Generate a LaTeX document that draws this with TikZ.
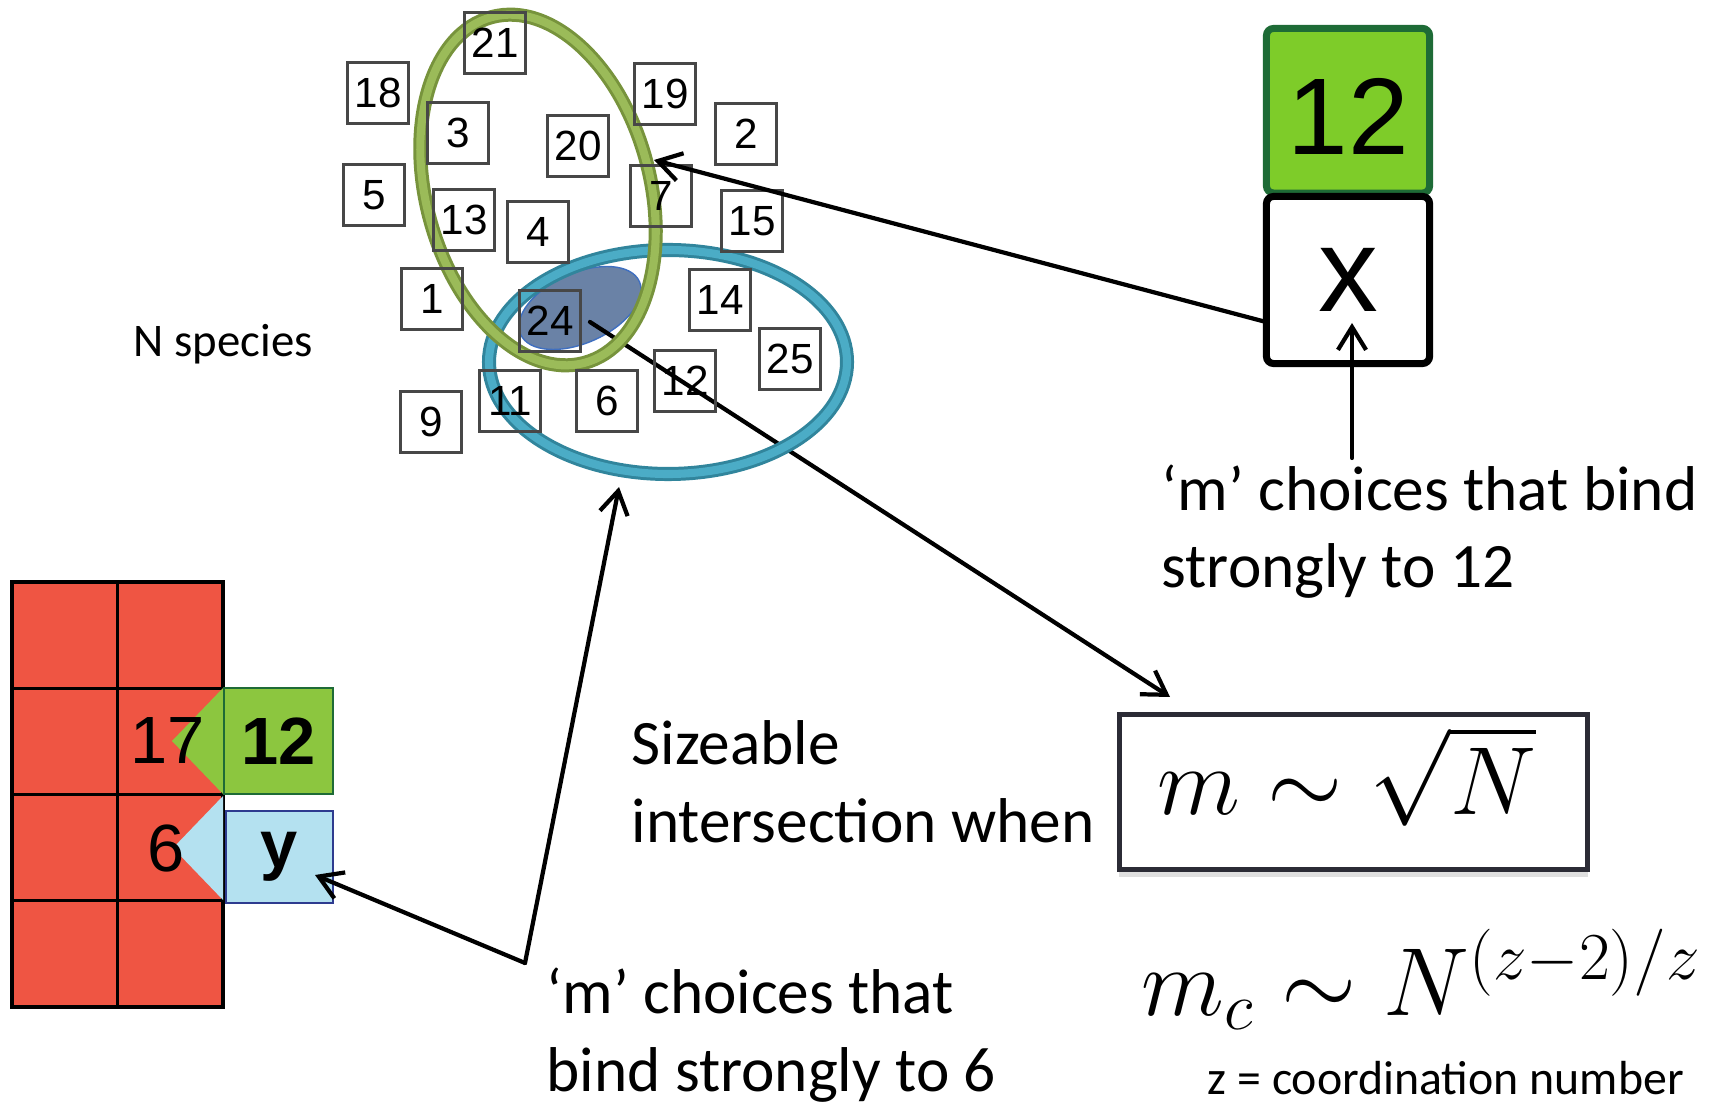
\documentclass[tikz,border=0pt]{standalone}
\usepackage[no-math]{fontspec}
\setmainfont{Carlito}
\newfontfamily\tagfont{Liberation Sans}
\usetikzlibrary{arrows.meta,shadows}
\DeclareMathSizes{24.88}{24.88}{17.28}{12}

\definecolor{cellred}{HTML}{EF5543}
\definecolor{leafgreen}{HTML}{8CC63F}
\definecolor{tagfill}{HTML}{7ECC29}
\definecolor{pinegreen}{HTML}{1E6B36}
\definecolor{iceblue}{HTML}{B4E1F0}
\definecolor{inkblue}{HTML}{2E3B8F}
\definecolor{ringgreen}{HTML}{77933C}
\definecolor{ringgreenlt}{HTML}{9BBB59}
\definecolor{ringblue}{HTML}{31859C}
\definecolor{ringbluelt}{HTML}{4BACC6}
\definecolor{overlap}{HTML}{6A82A6}
\definecolor{overlapedge}{HTML}{3F6FC0}
\definecolor{rulegray}{HTML}{2B2B35}

\begin{document}
\begin{tikzpicture}[x=0.01cm, y=-0.01cm,
    species/.style={draw=black!72, line width=0.6pt, minimum size=0.61cm, inner sep=0pt,
      font=\tagfont\fontsize{12}{14}\selectfont},
    cell/.style={draw=black, line width=0.9pt, fill=cellred},
    note/.style={inner sep=0pt, anchor=base west, align=left,
      font=\fontsize{18}{21.9}\selectfont},
    formula/.style={anchor=base west, inner sep=0pt, scale=1.105,
      font=\fontsize{24.88}{30}\selectfont},
    arr/.style={line width=1.2pt, line cap=round, -{Straight Barb[length=6.5pt,width=8pt]}},
    ring/.style={line width=4pt},
  ]
  \useasboundingbox (0,0) rectangle (1731,1104);

  % overlap of the two rings
  \draw[overlapedge, fill=overlap, line width=0.4pt, rotate around={24:(580,308)}]
    (580,308) ellipse [x radius=65, y radius=35];

  \coordinate (mid) at (590,322);
  \coordinate (ruletip) at (1170,697);
  \draw[arr] (mid) -- (ruletip);

  % rings
  \draw[ringblue, ring] (668,362) ellipse [x radius=179, y radius=112];
  \draw[ringbluelt, line width=2.3pt] (668,362) ellipse [x radius=179, y radius=112];
  \begin{scope}[rotate around={15:(538,190)}]
    \draw[ringgreen, ring] (538,190) ellipse [x radius=112, y radius=179];
    \draw[ringgreenlt, line width=2.3pt] (538,190) ellipse [x radius=112, y radius=179];
  \end{scope}

  % species pool
  \foreach \n/\x/\y in {21/495/43, 18/378/93, 3/458/133, 20/578/146, 19/665/94,
      2/746/134, 5/374/195, 13/464/220, 4/538/232, 7/661/196, 15/752/221,
      1/432/299, 24/550/321, 14/720/300, 25/790/359, 9/431/422, 11/510/401,
      6/607/401, 12/685/381}
    \node[species] (s\n) at (\x,\y) {\n};
  \node[note, font=\fontsize{13.3}{16}\selectfont] (pool) at (133,357) {N species};

  % the site that 12 binds
  \node[draw=pinegreen, fill=tagfill, line width=2pt, rounded corners=2pt, inner sep=0pt,
    minimum width=1.63cm, minimum height=1.645cm, text height=0.88cm,
    font=\tagfont\fontsize{31}{36}\selectfont] (tag) at (1348,110.75) {12};
  \node[draw=black, fill=white, line width=2pt, rounded corners=2pt, inner sep=0pt,
    minimum width=1.63cm, minimum height=1.67cm,
    font=\tagfont\fontsize{34}{40}\selectfont] (xbox) at (1348,280) {x};
  \coordinate (xside) at (1266,322);
  \coordinate (seven) at (654,160);
  \draw[arr] (xside) -- (seven);
  \coordinate (xfoot) at (1352,458);
  \coordinate (xtip) at (1352,323);
  \draw[arr] (xfoot) -- (xtip);
  \node[note] (bind12) at (1161,588) {‘m’ choices that bind\\strongly to 12};

  % lattice of bound sites
  \foreach \c in {0,1}
    \foreach \r in {0,...,3}
      \draw[cell] (12+105.5*\c,582+106.25*\r) rectangle ++(105.5,106.25);
  \fill[leafgreen] (223,688) -- (223,794) -- (172,741) -- cycle;
  \fill[iceblue] (223,796) -- (223,900) -- (173,848) -- cycle;
  \node[inner sep=0pt, font=\tagfont\fontsize{19}{22}\selectfont] (n17) at (168,741) {17};
  \node[inner sep=0pt, font=\tagfont\fontsize{19}{22}\selectfont] (n6) at (166,848) {6};
  \node[draw=pinegreen, fill=leafgreen, line width=0.6pt, inner sep=0pt,
    minimum width=1.09cm, minimum height=1.06cm,
    font=\tagfont\bfseries\fontsize{19}{22}\selectfont] (g12) at (278.5,741) {12};
  \node[draw=inkblue, fill=iceblue, line width=0.6pt, inner sep=0pt,
    minimum width=1.07cm, minimum height=0.92cm,
    font=\tagfont\bfseries\fontsize{19}{22}\selectfont] (ycell) at (279.5,857) {y};

  \coordinate (hub) at (525,963);
  \coordinate (ytip) at (315,875);
  \coordinate (ringtip) at (619,487);
  \draw[arr] (hub) -- (ytip);
  \draw[arr] (hub) -- (ringtip);
  \node[note] (bind6) at (546,1091) {‘m’ choices that\\bind strongly to 6};

  % scaling of the overlap
  \node[note] (sizeable) at (631,842) {Sizeable\\intersection when};
  \node[draw=rulegray, fill=white, line width=1.3pt, minimum width=4.68cm, minimum height=1.55cm,
    drop shadow={shadow xshift=0pt, shadow yshift=-2pt, opacity=0.25}] (rule) at (1353.5,792) {};
  \node[formula] (law) at (1157,814) {$m \sim \sqrt{N}$};
  \node[formula] (critical) at (1141,1015) {$m_c \sim N^{(z-2)/z}$};
  \node[anchor=base west, inner sep=0pt, font=\fontsize{13.6}{16}\selectfont] (coord) at (1207,1094)
    {z = coordination number};
\end{tikzpicture}
\end{document}
